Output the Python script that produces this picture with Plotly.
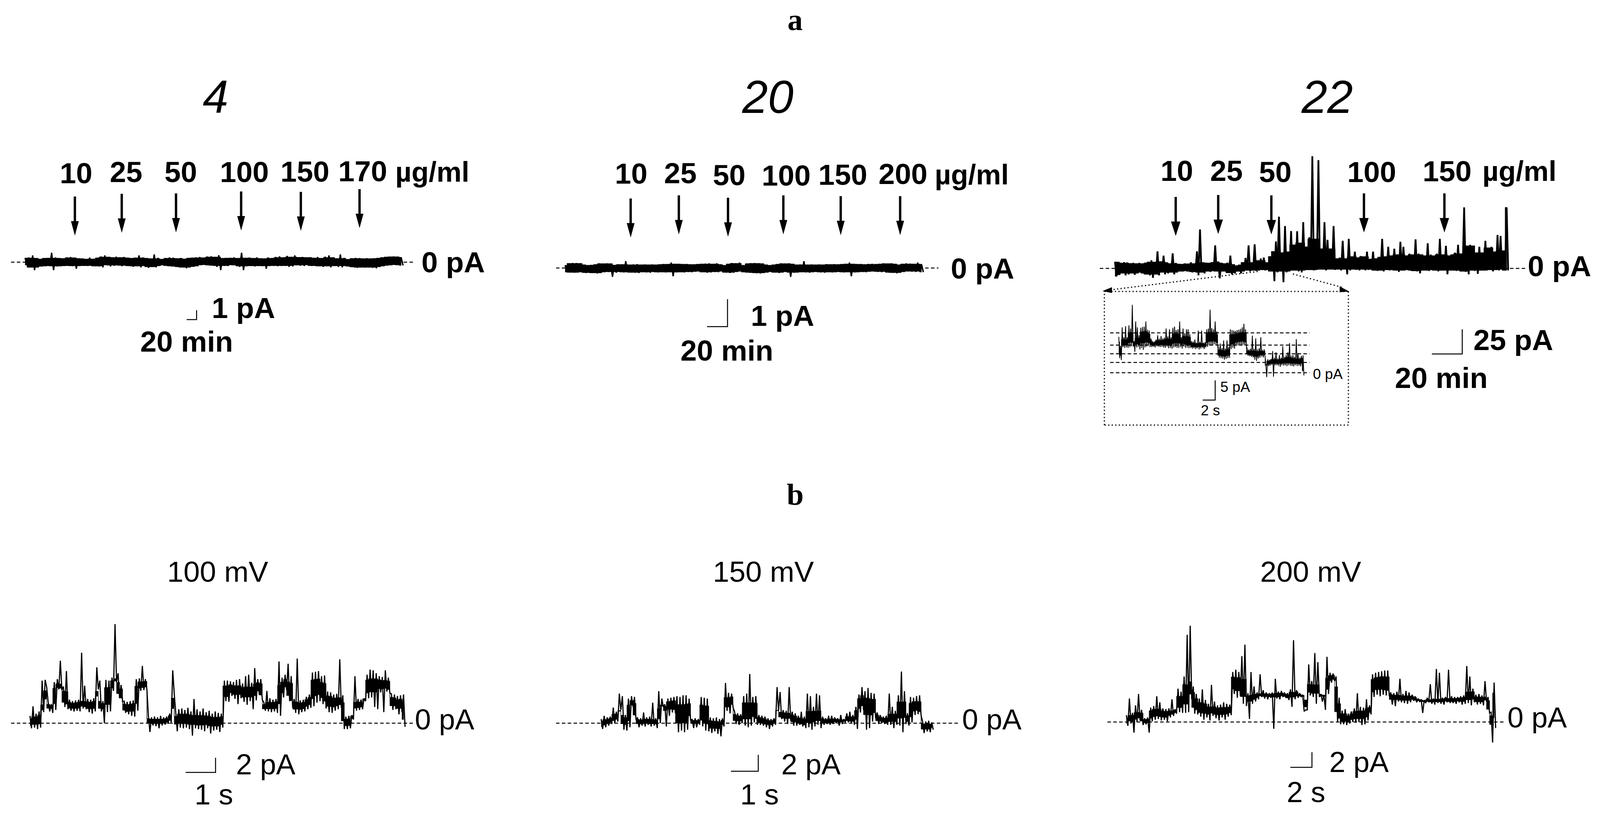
import plotly.graph_objects as go

W = 4216
H = 2086

# drug additions, minutes on each trace
add_times_4 = [101, 196, 306, 438, 559, 678]
add_times_20 = [64, 111, 159, 213, 269, 327]
add_times_22 = [40, 68, 103, 164, 217]
dose_labels_4 = ["10", "25", "50", "100", "150", "170"]
dose_labels_20 = ["10", "25", "50", "100", "150", "200"]
dose_labels_22 = ["10", "25", "50", "100", "150"]

# inset subconductance levels, pA
inset_levels = [0, 2.6, 4.8, 7.0, 10.1]

# upper and lower edge of each current trace, pA
hi_4 = [.45,.5,.72,.42,.33,.42,.44,1.0,.5,.42,
        .39,.5,.55,.47,.4,.38,.33,.48,.34,.46,
        .6,.72,.55,.5,.58,.5,.55,.46,.42,.46,
        .72,.5,.42,.38,.82,.45,.32,.42,.5,.47,
        .4,.44,.35,.44,.46,.5,.55,.48,.6,.62,
        .55,.74,.42,.44,.46,.5,.42,1.0,.45,.48,
        .42,.5,.4,.38,.5,.42,.55,.62,.5,.66,
        .55,.72,.52,.55,.5,.52,.45,.55,.42,.58,
        .72,.5,.4,.82,.45,.3,.4,.45,.42,.38,
        .42,.38,.4,.44,.5,.55,.58,.6,.58,.52]
lo_4 = [-.3,-.55,-.85,-.55,-.45,-.42,-.4,-.85,-.45,-.42,
        -.4,-.38,-.42,-.7,-.4,-.38,-.4,-.37,-.42,-.45,
        -.55,-.3,-.45,-.38,-.33,-.42,-.35,-.4,-.48,-.42,
        -.55,-.4,-.6,-.5,-.55,-.4,-.32,-.38,-.42,-.45,
        -.5,-.55,-.65,-.55,-.48,-.42,-.3,-.28,-.32,-.35,
        -.5,-.85,-.38,-.4,-.3,-.32,-.5,-.85,-.42,-.4,
        -.45,-.4,-.42,-.7,-.4,-.38,-.42,-.4,-.38,-.5,
        -.45,-.32,-.38,-.4,-.3,-.4,-.38,-.42,-.5,-.42,
        -.55,-.4,-.5,-.55,-.4,-.45,-.52,-.6,-.55,-.58,
        -.55,-.6,-.65,-.5,-.42,-.35,-.32,-.28,-.3,-.35]

hi_20 = [.1,.17,.18,.18,.17,.12,.1,.11,.13,.17,
         .16,.17,.16,.11,.13,.13,.25,.12,.13,.14,
         .12,.13,.12,.13,.12,.13,.14,.14,.2,.15,
         .15,.14,.14,.13,.13,.14,.15,.16,.17,.15,
         .17,.13,.1,.15,.18,.17,.2,.1,.16,.17,
         .18,.17,.16,.12,.1,.12,.14,.17,.16,.17,
         .15,.12,.13,.25,.12,.13,.12,.13,.12,.14,
         .13,.14,.13,.14,.15,.2,.15,.14,.14,.13,
         .14,.15,.14,.15,.17,.16,.17,.15,.12,.15,
         .17,.16,.15,.2,.14]
lo_20 = [-.15,-.16,-.17,-.16,-.15,-.18,-.17,-.18,-.2,-.18,
         -.15,-.14,-.32,-.17,-.14,-.16,-.15,-.16,-.17,-.18,
         -.15,-.16,-.17,-.14,-.16,-.15,-.16,-.15,-.3,-.16,
         -.15,-.16,-.14,-.15,-.13,-.12,-.15,-.17,-.16,-.14,
         -.15,-.12,-.16,-.18,-.17,-.14,-.12,-.15,-.16,-.17,
         -.19,-.2,-.18,-.16,-.14,-.16,-.18,-.16,-.14,-.32,
         -.17,-.16,-.15,-.16,-.17,-.15,-.14,-.16,-.17,-.15,
         -.16,-.15,-.14,-.16,-.15,-.3,-.16,-.15,-.14,-.15,
         -.13,-.12,-.14,-.15,-.13,-.16,-.17,-.19,-.17,-.14,
         -.12,-.13,-.14,-.12,-.15]

hi_22 = [6.7,6.5,5.5,6.3,6.0,5.1,5.6,5.0,5.5,4.9,
         5.6,6.7,8.2,6.5,17.3,7.0,12.9,6.0,5.0,15.3,
         5.5,4.5,4.3,5.0,4.7,6.1,5.0,17.3,39.6,6.0,
         5.6,5.5,6.2,23.4,7,5.5,5.0,5.8,13,4.0,
         2.8,3.6,6.1,10.6,23.4,6,24.5,8,10.0,11,
         6.0,12.2,17.3,27.3,52.6,16,43,17,38,24,
         37.8,26,47,22,31.6,114,30,110,20,47,
         29,20,43,10,11,28,10,30,12,17,
         11,12.5,12,17,9.5,17,10,11.5,30,12,
         22,13,20,14,27,22,13,15,14,29.5,
         15,14,13,25.5,14,13,15,30,14,23,
         13,14,16,24,15,62,23,24,23,16,
         22,16,28,21,22,17,34,33,18,62,23]
lo_22 = [-8.0,-6.5,-5.0,-7.0,-6.0,-5.0,-6.5,-5.0,-4.0,-5.0,
         -6.0,-7.0,-9.5,-6.0,-7.0,-4.0,-6.0,-5.0,-4.0,-6.0,-4.0,
         -3,-3,-2.5,-3,-4,-3.5,-7,-4,-5,-3,-3.5,-2.5,-3,-10,-3,
         -3,-4.5,-6,-5,-3,-5,-3,-2,-3,-2,-2.5,-2,-1.5,-2,-1.5,
         -3,-13,-4,-3,-14,-4,-3,-2,-2,-3,-4,-2,-1.5,-1.5,-2,-1.5,-1,-1,-2,-1,
         -1,-1.5,-1,-2,-1,-6,-2,-1,-1.5,-2,-1,-2,-1.5,-1,-2,-2.5,-2,-3,-1.5,-2,
         -1.5,-2,-3.5,-2,-2,-1.5,-2,-2.5,-3,-5,-2,-2,-2.5,-1.5,-2,-3,-2,-2,-6,-2,
         -2,-2.5,-2,-3,-3.5,-6,-2,-2.5,-5.5,-2,-2,-2,-1.5,-3,-1.5,-2,-1,-2,-2]

hi_inset = [9.1,6.8,11.5,9.0,11.8,9.0,12.0,11.2,17.2,8.0,
            13.0,11.5,9.5,11.4,11.6,11.7,13.0,10.9,10.7,8.7,
            8.0,7.9,8.4,9.5,8.6,9.3,8.7,8.9,11.2,9.2,
            11.0,9.0,11.4,11.7,10.8,11.0,13.0,9.0,11.2,10.0,
            11.0,11.0,9.8,8.0,7.9,8.4,7.6,10.7,7.8,10.7,
            7.6,7.7,11.0,11.2,16.0,11.3,11.0,13.0,10.5,6.4,
            7.4,6.2,8.2,6.1,8.2,6.5,11.0,10.8,10.7,10.6,
            10.8,10.9,11.1,11.5,12.4,11.0,6.0,5.9,6.1,9.4,
            6.0,8.7,5.9,6.2,9.0,5.8,5.9,2.0,3.4,3.3,
            3.5,5.5,3.8,5.2,3.6,4.5,3.8,6.7,4.0,4.5,
            5.2,7.5,4.3,4.5,4.0,8.5,5.0,3.8,4.3,4.4]
lo_inset = [3.7,3.2,6.5,6.3,6.4,6.3,6.5,6.7,6.6,5.3,
            6.4,6.6,5.9,6.3,5.8,6.4,6.6,6.8,6.5,6.5,
            6.6,6.4,6.7,6.6,6.5,6.6,6.4,6.3,6.6,6.2,
            6.3,6.1,6.4,6.5,6.3,6.3,6.5,6.1,6.6,6.3,
            6.4,6.2,6.3,6.1,6.2,6.0,6.2,5.9,6.1,6.3,
            6.0,6.4,6.6,6.9,7.0,7.0,7.2,7.0,6.8,3.8,
            3.7,3.6,3.3,3.5,3.7,3.8,6.0,6.3,6.1,6.8,
            6.9,7.0,6.9,7.1,6.9,6.8,4.3,4.2,4.0,3.9,
            3.3,3.0,3.6,3.8,4.1,3.9,4.2,-1.1,1.7,1.8,
            2.0,-1.0,1.9,1.9,1.8,1.5,1.9,1.8,1.9,1.7,
            1.9,1.8,1.7,1.6,1.9,1.7,1.8,1.6,1.8,-0.7]

hi_100 = [1.0,2.3,1.3,1.6,5.8,5.9,2.8,2.6,5.6,6.0,8.5,5.0,7.1,3.2,3.0,3.1,3.2,9.6,5.1,3.3,
          3.2,3.4,7.6,5.8,3.0,5.9,5.8,6.2,13.5,6.8,5.2,3.0,2.9,3.0,3.1,6.0,6.1,7.8,6.0,0.9,
          0.8,0.9,0.8,1.0,0.8,0.9,1.3,7.2,1.4,1.9,2.0,1.8,2.1,1.6,3.3,1.9,1.6,2.0,1.5,1.7,
          1.3,1.6,1.4,1.3,5.8,5.8,5.7,5.6,5.9,6.0,5.4,6.4,6.6,5.5,7.5,6.0,6.0,2.8,4.4,3.4,
          3.2,3.3,8.4,6.2,6.6,8.1,6.4,3.3,8.8,3.1,3.2,3.6,3.9,6.9,7.0,7.1,6.4,6.5,4.3,4.2,
          3.9,4.0,8.7,3.8,0.9,1.0,1.1,6.4,3.3,3.2,3.4,6.6,7.3,7.2,6.8,6.4,6.3,7.2,6.2,4.0,
          3.9,3.7,3.8,3.9]
lo_100 = [-0.7,-0.6,-0.8,-0.6,1.5,4.9,1.6,1.4,1.8,4.6,4.5,2.2,1.9,1.7,1.6,1.7,1.6,2.0,1.9,1.5,
          1.3,1.6,4.6,1.6,0.0,1.5,1.6,4.4,5.6,3.4,2.9,1.4,1.2,1.0,0.9,1.7,4.4,4.5,4.6,-1.2,
          -0.3,-0.4,-0.7,-0.3,-0.2,-0.1,0.1,4.0,-1.1,-0.6,-0.7,-0.6,-0.8,-1.7,-0.7,-0.8,-0.9,-1.1,-0.7,-1.4,
          -1.0,-0.9,-1.2,-0.6,3.0,2.9,3.7,3.3,2.6,3.4,2.9,2.5,3.0,1.9,3.1,3.9,3.2,1.7,1.6,1.5,
          1.6,1.4,1.0,3.5,4.5,3.0,2.1,1.4,1.2,1.5,1.6,1.9,2.1,2.3,2.8,3.0,2.6,2.0,1.5,1.4,
          1.7,1.9,2.1,-0.8,-0.8,-0.7,0.5,1.7,1.8,1.9,3.0,3.4,3.5,2.2,1.9,4.2,1.5,4.3,4.1,1.8,
          1.9,1.2,1.5,-0.5]

hi_150 = [0.5,0.9,0.7,0.8,1.9,1.4,3.6,3.3,1.0,3.0,3.3,3.2,0.7,0.6,1.3,0.7,0.8,2.5,0.6,3.9,
          3.0,2.3,3.0,3.1,3.2,3.3,3.2,3.4,3.4,3.0,0.5,0.6,0.5,3.2,3.1,3.0,0.7,0.6,0.7,0.5,
          0.6,4.9,3.7,3.6,1.4,1.2,1.1,3.3,3.6,6.0,3.2,3.3,1.0,0.9,0.8,0.6,0.5,0.6,4.4,3.8,
          1.6,1.5,4.4,1.4,1.2,0.9,1.4,0.8,3.6,3.3,2.0,3.6,3.4,0.8,0.6,0.9,0.9,0.7,0.6,1.0,
          0.5,1.2,1.4,1.0,2.0,3.5,4.4,3.9,4.3,3.7,3.6,1.3,1.0,0.8,0.9,3.6,2.0,1.5,3.4,6.3,
          3.9,1.2,3.2,3.1,3.3,3.4,0.2,0.2,0.3,0.1]
lo_150 = [-0.7,-0.5,-0.3,-0.1,0.0,0.2,1.6,-0.8,-0.9,-0.5,2.0,0.4,-0.5,-0.3,-0.4,-0.2,-0.4,-0.3,-0.6,0.0,
          2.0,-0.4,0.9,1.3,1.2,-1.1,-0.9,-1.1,-0.8,0.3,-0.6,-0.5,-0.2,-0.4,-0.9,-1.0,-1.2,-1.0,-1.3,-1.6,
          -0.4,1.5,1.2,1.9,-0.1,-0.2,0.0,-0.3,-0.5,-0.3,0.1,-0.2,-0.2,-0.3,-0.5,-0.7,-0.4,-0.2,1.5,0.5,
          0.2,-0.1,0.3,-0.3,-0.3,-0.2,-0.4,-0.6,-0.5,-0.8,-0.4,-0.2,-0.6,-0.2,-0.1,-0.2,-0.1,0.0,-0.3,-0.1,
          0.1,0.1,0.0,-0.2,-0.7,1.3,1.6,-0.8,-0.6,0.2,0.6,-0.1,0.0,-0.1,-0.2,-0.2,-0.6,-0.2,-0.3,-1.1,
          -0.1,-0.3,0.1,1.0,1.1,0.9,-1.2,-1.0,-1.1,-0.8]

hi_200 = [0.9,3.1,1.2,2.2,3.7,1.6,0.5,0.6,1.9,2.1,3.4,2.6,1.8,1.7,1.8,3.0,1.7,4.4,4.0,6.0,
          11.5,12.7,4.7,3.7,3.1,4.3,2.9,2.4,4.9,2.7,2.2,2.3,2.6,2.4,2.3,6.6,6.9,6.6,8.7,10.2,
          3.8,6.6,4.7,3.9,6.3,4.2,3.9,3.8,3.9,5.7,4.0,4.1,3.9,3.8,4.3,10.8,4.2,3.8,3.6,1.6,
          7.6,5.4,9.1,7.9,3.7,3.6,8.6,6.5,6.4,6.0,3.2,1.5,1.7,1.1,1.4,1.8,3.8,2.0,1.9,3.0,
          2.2,6.3,6.5,6.6,6.7,6.8,6.8,3.9,3.8,4.0,5.7,3.7,4.1,3.9,3.6,3.4,3.1,3.0,2.9,3.2,
          5.0,3.1,7.0,6.5,3.2,3.3,6.9,3.4,3.3,3.3,3.4,3.5,7.4,6.0,4.4,3.6,3.7,3.5,5.4,3.3,
          1.3,5.2]
lo_200 = [-0.5,-0.2,-1.4,0.0,0.2,-0.4,-0.3,-1.4,0.1,0.3,0.4,0.2,0.3,0.1,0.6,0.8,1.1,1.3,1.2,1.2,
          1.3,3.0,1.1,1.0,0.7,0.3,0.6,0.2,0.8,0.5,0.2,0.6,0.3,0.7,0.9,3.7,3.2,3.4,2.4,2.1,
          0.4,2.4,2.7,3.0,3.3,3.1,3.0,3.2,-0.9,3.1,3.0,3.3,3.2,2.9,2.0,3.0,3.2,3.3,1.4,1.6,
          3.5,3.3,2.4,3.3,2.7,1.6,3.7,5.2,5.4,0.0,-0.3,-0.3,-0.4,-0.2,0.0,-0.1,0.0,-0.4,-0.3,0.2,
          1.0,3.3,3.6,3.4,3.6,3.5,3.4,2.3,2.1,2.7,2.6,2.5,2.4,2.6,2.8,2.6,2.7,1.2,2.5,2.6,
          2.4,2.3,2.5,2.4,2.3,2.6,2.5,2.5,2.4,2.6,2.3,2.4,2.5,2.2,2.6,2.3,2.4,2.2,2.7,1.2,
          -2.7,-0.8]

# pixel geometry of each small panel: x scale, y scale, where t=0 and 0 pA sit
panels = {
    "top4": dict(left=29, right=1093, top=400, bottom=840, x0=66, xpx=1.3, base=671, ypx=24,
                 dt=7.7, width=3.5, core=1, hi=hi_4, lo=lo_4, bar=(518, 818, 20, 1)),
    "top20": dict(left=1465, right=2473, top=400, bottom=860, x0=1489, xpx=2.7, base=686, ypx=70,
                  dt=3.7, width=3.5, core=1, hi=hi_20, lo=lo_20, bar=(1917, 836, 20, 1)),
    "top22": dict(left=2898, right=4019, top=380, bottom=920, x0=2938, xpx=4, base=687, ypx=2.52,
                  dt=2, width=4.5, core=1, hi=hi_22, lo=lo_22, bar=(3853, 906, 20, 25)),
    "inset": dict(left=2925, right=3451, top=750, bottom=1085, x0=2948, xpx=16.5, base=954, ypx=10.1,
                  dt=.27, width=2, core=.55, hi=hi_inset, lo=lo_inset, bar=(3202, 1024, 2, 5)),
    "b100": dict(left=29, right=1088, top=1560, bottom=1990, x0=79, xpx=79, base=1851, ypx=18.8,
                 dt=.1013, width=3, core=.55, hi=hi_100, lo=lo_100, bar=(568, 1977, 1, 2)),
    "b150": dict(left=1465, right=2529, top=1560, bottom=1990, x0=1584, xpx=72, base=1851, ypx=21,
                 dt=.111, width=3, core=.55, hi=hi_150, lo=lo_150, bar=(1998, 1974, 1, 2)),
    "b200": dict(left=2918, right=3966, top=1560, bottom=1990, x0=2968, xpx=28.5, base=1848, ypx=19.4,
                 dt=.281, width=3, core=.55, hi=hi_200, lo=lo_200, bar=(3457, 1964, 2, 2)),
}


def fx(px):
    return px / W


def fy(py):
    return 1 - py / H


def solid_core(hi, lo, shrink):
    # the dense part of a trace: spikes of one or two columns dropped, edges pulled to the middle
    n = len(hi)
    up, down = [], []
    for i in range(n):
        a, b = max(i - 2, 0), max(i - 1, 0)
        c, d = min(i + 1, n - 1), min(i + 2, n - 1)
        h = min(hi[i], max(min(hi[a], hi[b]), min(hi[b], hi[c]), min(hi[c], hi[d])))
        l = max(lo[i], min(max(lo[a], lo[b]), max(lo[b], lo[c]), max(lo[c], lo[d])))
        mid = (h + l) / 2
        up.append(mid + shrink * (h - mid))
        down.append(mid + shrink * (l - mid))
    return up, down


fig = go.Figure()
layout_axes = {}
axis_id = {}

for i, (name, p) in enumerate(panels.items(), start=1):
    suffix = "" if i == 1 else str(i)
    xa, ya = "x" + suffix, "y" + suffix
    axis_id[name] = (xa, ya)
    x_range = [(p["left"] - p["x0"]) / p["xpx"], (p["right"] - p["x0"]) / p["xpx"]]
    y_range = [(p["base"] - p["bottom"]) / p["ypx"], (p["base"] - p["top"]) / p["ypx"]]
    layout_axes["xaxis" + suffix] = dict(domain=[fx(p["left"]), fx(p["right"])], range=x_range,
                                         visible=False, anchor=ya, fixedrange=True)
    layout_axes["yaxis" + suffix] = dict(domain=[fy(p["bottom"]), fy(p["top"])], range=y_range,
                                         visible=False, anchor=xa, fixedrange=True)

    # zero current line, the inset gets one per level
    levels = inset_levels if name == "inset" else [0]
    for lev in levels:
        fig.add_trace(go.Scatter(x=x_range, y=[lev, lev], mode="lines", xaxis=xa, yaxis=ya,
                                 line=dict(color="black", width=2.5, dash="9px,6px")))

    # current trace: solid core plus a zigzag between the upper and lower edge
    times = [k * p["dt"] for k in range(min(len(p["hi"]), len(p["lo"])))]
    hi, lo = p["hi"][:len(times)], p["lo"][:len(times)]
    up, down = solid_core(hi, lo, p["core"])
    fig.add_trace(go.Scatter(x=times + times[::-1], y=up + down[::-1], mode="lines", fill="toself",
                             fillcolor="black", xaxis=xa, yaxis=ya,
                             line=dict(color="black", width=1, shape="hvh")))
    xs, ys = [], []
    for t, h, l in zip(times, hi, lo):
        xs += [t, t + p["dt"] / 2]
        ys += [h, l]
    fig.add_trace(go.Scatter(x=xs, y=ys, mode="lines", xaxis=xa, yaxis=ya,
                             line=dict(color="black", width=p["width"], simplify=False)))

    # scale bar, drawn in panel units
    cx = (p["bar"][0] - p["x0"]) / p["xpx"]
    cy = (p["base"] - p["bar"][1]) / p["ypx"]
    fig.add_trace(go.Scatter(x=[cx - p["bar"][2], cx, cx], y=[cy, cy, cy + p["bar"][3]], mode="lines",
                             xaxis=xa, yaxis=ya, line=dict(color="black", width=2.5), cliponaxis=False))

shapes = []


def add_arrows(name, times, tips, head):
    xa, ya = axis_id[name]
    p = panels[name]
    for t, tip in zip(times, tips):
        path = f"M0,0 L{head},37 L3,37 L3,100 L-3,100 L-3,37 L-{head},37 Z"
        shapes.append(dict(type="path", path=path, xref=xa, yref=ya, xsizemode="pixel", ysizemode="pixel",
                           xanchor=t, yanchor=(p["base"] - tip) / p["ypx"],
                           fillcolor="black", line=dict(width=0)))


add_arrows("top4", add_times_4, [603, 596, 595, 590, 591, 584], 10)
add_arrows("top20", add_times_20, [608, 600, 606, 600, 602, 602], 10)
add_arrows("top22", add_times_22, [604, 599, 600, 595, 595], 12)

# dotted zoom box around the inset
dot = dict(color="black", width=3, dash="3px,6px")
for a, b, c, d in [(2910, 746, 3553, 746), (3553, 746, 3553, 1088), (3553, 1088, 2910, 1088), (2910, 1088, 2910, 746),
                   (2925, 742, 3314, 695), (3535, 735, 3406, 701)]:
    shapes.append(dict(type="line", xref="paper", yref="paper", x0=fx(a), y0=fy(b), x1=fx(c), y1=fy(d), line=dot))
for tri in [[(2905, 745), (2930, 735), (2930, 750)], [(3555, 746), (3530, 733), (3530, 748)]]:
    path = "M" + " L".join(f"{fx(a)},{fy(b)}" for a, b in tri) + " Z"
    shapes.append(dict(type="path", path=path, xref="paper", yref="paper", fillcolor="black", line=dict(width=0)))

notes = []


def note(text, x, y, size, anchor="center", family="Liberation Sans"):
    notes.append(dict(text=text, x=fx(x), y=fy(y), xref="paper", yref="paper", showarrow=False, xanchor=anchor,
                      yanchor="middle", borderpad=0, font=dict(family=family, size=size, color="black")))


note("<b>a</b>", 2095, 50, 78, family="Liberation Serif")
note("<b>b</b>", 2095, 1265, 78, family="Liberation Serif")
for text, x in [("4", 568), ("20", 2023), ("22", 3497)]:
    note(f"<i>{text}</i>", x, 248, 118)

BOLD = 75
UNIT = 72
for label, x, y in zip(dose_labels_4, [200, 332, 476, 644, 803, 956], [443, 440, 440, 440, 439, 438]):
    note(f"<b>{label}</b>", x, y, BOLD)
note("<b>µg/ml</b>", 1041, 440, UNIT, "left")
note("<b>0 pA</b>", 1110, 671, BOLD, "left")
note("<b>1 pA</b>", 557, 788, BOLD, "left")
note("<b>20 min</b>", 368, 874, BOLD, "left")

for label, x, y in zip(dose_labels_20, [1663, 1793, 1921, 2071, 2221, 2379], [444, 443, 448, 449, 447, 445]):
    note(f"<b>{label}</b>", x, y, BOLD)
note("<b>µg/ml</b>", 2462, 447, UNIT, "left")
note("<b>0 pA</b>", 2504, 687, BOLD, "left")
note("<b>1 pA</b>", 1977, 808, BOLD, "left")
note("<b>20 min</b>", 1792, 897, BOLD, "left")

for label, x, y in zip(dose_labels_22, [3101, 3231, 3360, 3614, 3813], [437, 437, 440, 440, 438]):
    note(f"<b>{label}</b>", x, y, BOLD)
note("<b>µg/ml</b>", 3905, 438, UNIT, "left")
note("<b>0 pA</b>", 4025, 681, BOLD, "left")
note("<b>25 pA</b>", 3881, 870, BOLD, "left")
note("<b>20 min</b>", 3675, 967, BOLD, "left")

note("0 pA", 3458, 957, 37, "left")
note("5 pA", 3214, 990, 37, "left")
note("2 s", 3163, 1050, 37, "left")

for text, x in [("100 mV", 573), ("150 mV", 2011), ("200 mV", 3453)]:
    note(text, x, 1463, 75)

for x, y in [(1092, 1841), (2534, 1841), (3971, 1836)]:
    note("0 pA", x, y, 74, "left")
for text, x, y in [("2 pA", 621, 1956), ("1 s", 512, 2033), ("2 pA", 2058, 1956), ("1 s", 1949, 2033),
                   ("2 pA", 3502, 1950), ("2 s", 3389, 2027)]:
    note(text, x, y, 74, "left")

fig.update_layout(autosize=True, margin=dict(l=0, r=0, t=0, b=0), showlegend=False,
                  paper_bgcolor="white", plot_bgcolor="white", hovermode=False,
                  shapes=shapes, annotations=notes, **layout_axes)

# the graph fills the window, so take away the page margin and let it refit
fit_page = """
document.body.style.margin = '0';
Plotly.Plots.resize(document.getElementsByClassName('plotly-graph-div')[0]);
"""
fig.write_html("out.html", post_script=fit_page, config={"displayModeBar": False})
